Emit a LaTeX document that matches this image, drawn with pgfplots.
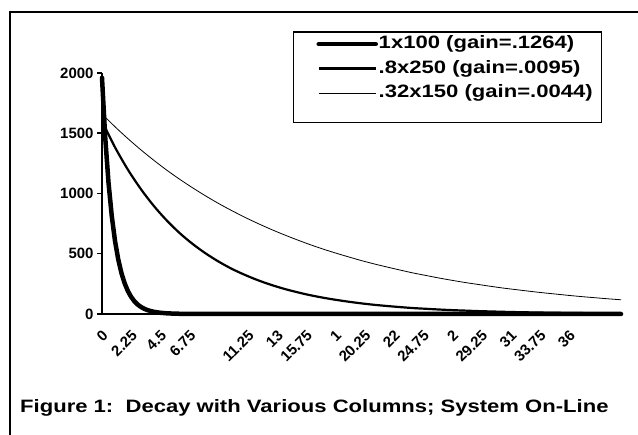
\documentclass[border=0pt]{standalone}
\usepackage{pgfplots}
\pgfplotsset{compat=1.18}
\usepackage{fontspec}
\setmainfont{Liberation Sans}
\newfontfamily\widefont[FakeStretch=1.23]{Liberation Sans}
\begin{document}
\begin{tikzpicture}[x=1bp,y=1bp]
\useasboundingbox (0,0) rectangle (638,435);
\draw[line width=2bp] (10,-5) -- (10,423) -- (645,423);
\node[anchor=base west, font=\widefont\bfseries\fontsize{18}{18}\selectfont, inner sep=0pt] at (20,22) {Figure 1:\ \ Decay with Various Columns; System On-Line};
\begin{axis}[
  at={(102bp,121bp)}, anchor=south west,
  width=519bp, height=241bp, scale only axis,
  xmin=0, xmax=40, ymin=0, ymax=2000,
  axis x line*=bottom, axis y line*=left,
  axis line style={-, line width=1.5bp, black},
  clip=false,
  ytick={0,500,1000,1500,2000},
  tick align=outside, major tick length=5bp,
  y tick style={line width=1.5bp, black},
  x tick style={draw=none},
  xtick={0,2.25,4.5,6.75,9,11.25,13.5,15.75,18,20.25,22.5,24.75,27,29.25,31.5,33.75,36},
  xticklabels={0,2.25,4.5,6.75,,11.25,13,15.75,1,20.25,22,24.75,2,29.25,31,33.75,36},
  x tick label style={rotate=45, anchor=east, xshift=-4bp, yshift=-12bp, font=\bfseries\fontsize{15}{15}\selectfont},
  y tick label style={font=\bfseries\fontsize{15}{15}\selectfont},
  /pgf/number format/assume math mode=true,
  scaled y ticks=false,
  yticklabel={\pgfmathprintnumber[fixed,precision=0,1000 sep={}]{\tick}},
  legend style={at={(axis description cs:0.368,1.174)}, anchor=north west,
    draw=black, line width=1.5bp, inner xsep=0bp, inner ysep=0bp,
    font=\widefont\bfseries\fontsize{18}{18}\selectfont, row sep=0bp, column sep=0bp,
    cells={anchor=west}, nodes={inner xsep=0bp, inner ysep=0bp, text height=13bp, text depth=4bp}},
  legend image code/.code={\path[draw=none] (0bp,-12.25bp) rectangle (85bp,12.25bp); \draw[#1] (25bp,0bp) -- (82bp,0bp);},
]
\addplot[black, line width=4.5bp, line join=round, line cap=round] coordinates {
(0,1960) (0.25,1463) (0.5,1092) (0.75,815) (1,608) (1.25,454) (1.5,339) (1.75,253)
(2,189) (2.25,141) (2.5,105) (2.75,78.5) (3,58.6) (3.25,43.7) (3.5,32.6) (3.75,24.4)
(4,18.2) (4.5,10.1) (5,5.7) (5.5,3.2) (6,1.8) (7,0.55) (8,0.17) (9,0) (40,0)};
\addlegendentry{1x100 (gain=.1264)}
\addplot[black, line width=2.2bp, smooth] coordinates {
(0,1600) (1,1384) (2,1197) (3,1036) (4,896) (5,775) (6,670) (7,580) (8,502) (9,434)
(10,375) (11,325) (12,281) (13,243) (14,210) (15,182) (16,157) (17,136) (18,118) (19,102)
(20,88) (21,76) (22,66) (23,57) (24,49) (25,43) (26,37) (27,32) (28,28) (29,24)
(30,21) (31,18) (32,15.4) (33,13.4) (34,11.6) (35,10) (36,8.6) (37,7.5) (38,6.5) (39,5.6) (40,4.8)};
\addlegendentry{.8x250 (gain=.0095)}
\addplot[black, line width=0.8bp, smooth] coordinates {
(0,1660) (1,1554) (2,1455) (3,1362) (4,1275) (5,1193) (6,1117) (7,1046) (8,979) (9,916)
(10,858) (11,803) (12,752) (13,704) (14,659) (15,617) (16,577) (17,540) (18,506) (19,474)
(20,443) (21,415) (22,389) (23,364) (24,340) (25,319) (26,298) (27,279) (28,261) (29,245)
(30,229) (31,214) (32,201) (33,188) (34,176) (35,165) (36,154) (37,144) (38,135) (39,126) (40,118)};
\addlegendentry{.32x150 (gain=.0044)\hspace*{9bp}}
\addlegendimage{empty legend}
\addlegendentry{}
\end{axis}
\end{tikzpicture}
\end{document}
